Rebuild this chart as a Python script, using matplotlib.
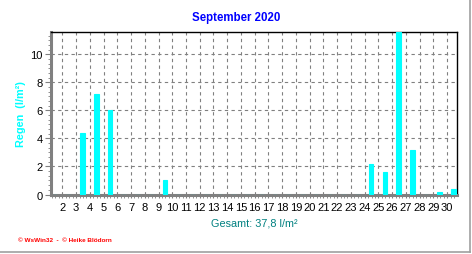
import matplotlib
matplotlib.use("Agg")
import matplotlib.pyplot as plt
from matplotlib.ticker import MultipleLocator, FixedLocator
from matplotlib.lines import Line2D

# daily rain, September 2020 (l/m²)
days = list(range(1, 31))
rain = [0, 0, 4.4, 7.2, 6.0, 0, 0, 0, 1.0, 0,
        0, 0, 0, 0, 0, 0, 0, 0, 0, 0,
        0, 0, 0, 2.2, 1.6, 11.6, 3.2, 0, 0.2, 0.4]
day_labels = [str(d) for d in range(2, 31)]
y_ticks = [0, 2, 4, 6, 8, 10]

title = "September 2020"
ylabel = "Regen  (l/m²)"
footer = "© WsWin32  -  © Heike Blödorn"

plt.rcParams['font.family'] = ['Liberation Sans', 'DejaVu Sans']

fig = plt.figure(figsize=(4.72, 2.55), dpi=100)
ax = fig.add_axes([51/472, 1-195.5/255, 406/472, 162.5/255])

xpos = [d + 0.47 for d in days]
ax.bar(xpos, rain, width=0.34, color='#00ffff', edgecolor='#00ffff',
       linewidth=0.8, zorder=3)

ax.set_xlim(1.175, 30.72)
ax.set_ylim(0, max(rain))

ax.xaxis.set_major_locator(FixedLocator(range(2, 31)))
ax.set_xticklabels(day_labels)
ax.xaxis.set_minor_locator(MultipleLocator(0.25))
ax.set_yticks(y_ticks)
ax.yaxis.set_minor_locator(MultipleLocator(1/3))

ax.grid(True, which='major', color='#808080', linestyle=(0, (3, 3)), linewidth=0.8)
ax.set_axisbelow(True)

ax.tick_params(axis='both', which='both', direction='out', color='#808080',
               labelsize=8, labelcolor='black')
ax.tick_params(axis='x', which='major', length=2.5, pad=3)
ax.tick_params(axis='x', which='minor', length=2)
ax.tick_params(axis='y', which='major', length=4, pad=2)
ax.tick_params(axis='y', which='minor', length=2)

for side in ['left', 'bottom']:
    ax.spines[side].set_color('#808080')
    ax.spines[side].set_linewidth(2.2)
for side in ['top', 'right']:
    ax.spines[side].set_color('black')
    ax.spines[side].set_linewidth(1)

fig.text(236/472, 1-18/255, title, color='#0000ff', fontsize=8.3,
         fontweight='bold', ha='center', va='center')
fig.text(21/472, 1-114/255, ylabel, color='#00ffff', fontsize=7.8,
         fontweight='bold', rotation=90, ha='center', va='center')
total = sum(rain)
fig.text(254/472, 1-224/255, 'Gesamt: ' + f'{total:.1f}'.replace('.', ',') + ' l/m²',
         color='#008080', fontsize=7.8, ha='center', va='center')
fig.text(18/472, 1-241/255, footer, color='#ff0000', fontsize=4.6,
         fontweight='bold', ha='left', va='center')

# grey frame on right and bottom edge
fig.add_artist(Line2D([469.5/472, 469.5/472], [1-252.5/255, 1], color='#a0a0a0',
                      linewidth=1.2, transform=fig.transFigure))
fig.add_artist(Line2D([0, 469.5/472], [1-252.5/255, 1-252.5/255], color='#a0a0a0',
                      linewidth=1.2, transform=fig.transFigure))

fig.savefig('out.png', dpi=100)
